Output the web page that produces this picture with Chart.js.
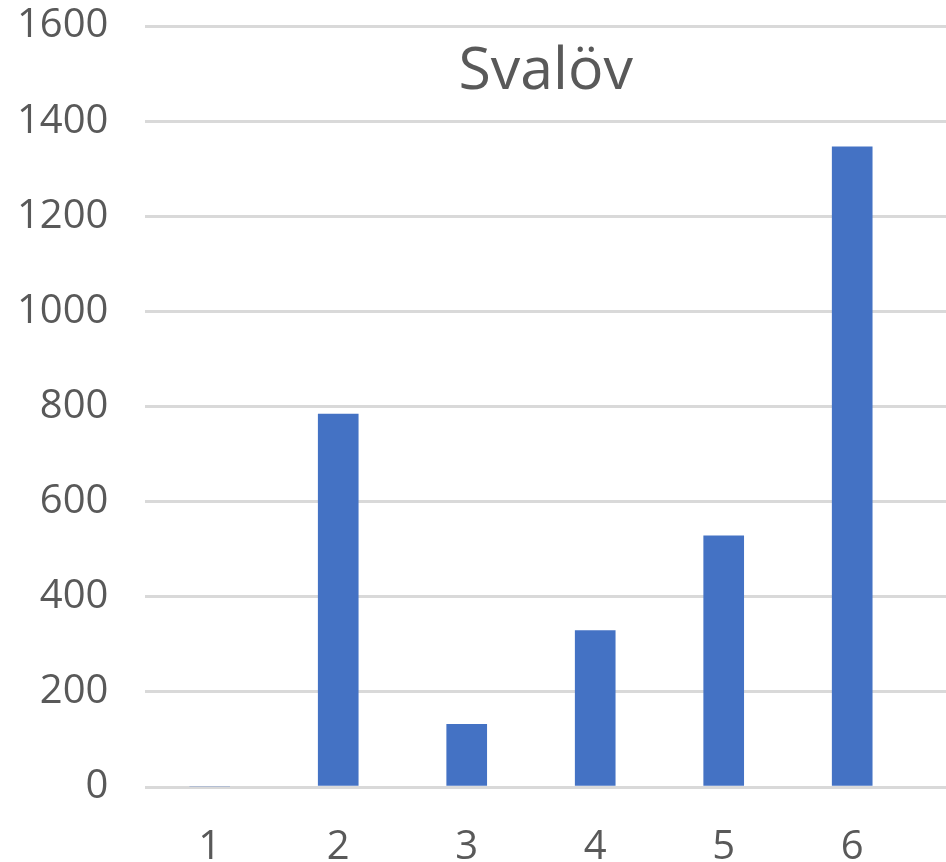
<!DOCTYPE html>
<html>
<head>
<meta charset="utf-8">
<script src="https://cdn.jsdelivr.net/npm/chart.js@4/dist/chart.umd.min.js"></script>
<style>
  html, body { margin: 0; padding: 0; background: #fff; overflow: hidden; }
  #wrap { width: 946px; height: 862px; }
</style>
</head>
<body>
<div id="wrap"><canvas id="svalov-chart"></canvas></div>
<script>
// chart data
const categories = [1, 2, 3, 4, 5, 6];
const values = [0, 784, 132, 329, 528, 1346];
const yTicks = [0, 200, 400, 600, 800, 1000, 1200, 1400, 1600];
const chartTitle = 'Svalöv';

const textColor = '#595959';
const gridColor = '#d9d9d9';
const barColor = '#4472c4';

const points = categories.map(function (c, i) {
  return { x: c, y: values[i] };
});

// title sits inside the plot area, like the excel one
const insideTitle = {
  id: 'insideTitle',
  afterDraw: function (chart) {
    const area = chart.chartArea;
    const ctx = chart.ctx;
    ctx.save();
    ctx.fillStyle = textColor;
    ctx.font = '59px "Open Sans"';
    ctx.textAlign = 'center';
    ctx.textBaseline = 'middle';
    ctx.fillText(chartTitle, (area.left + area.right) / 2, area.top + 46);
    ctx.restore();
  },
};

new Chart(document.getElementById('svalov-chart'), {
  type: 'bar',
  data: {
    datasets: [{
      data: points,
      backgroundColor: barColor,
      borderWidth: 0,
      barThickness: 40,
    }],
  },
  plugins: [insideTitle],
  options: {
    responsive: true,
    maintainAspectRatio: false,
    animation: false,
    layout: {
      padding: { left: 17, right: 0, top: 26, bottom: -10 },
    },
    plugins: {
      legend: { display: false },
      tooltip: { enabled: false },
      title: { display: false },
    },
    scales: {
      x: {
        type: 'linear',
        min: 0.5,
        max: 6.73,
        offset: false,
        // invisible ticks only used as spacing under the axis
        grid: {
          display: true,
          drawOnChartArea: false,
          offset: false,
          tickLength: 37,
          tickColor: 'rgba(0,0,0,0)',
        },
        border: { display: false },
        ticks: {
          stepSize: 1,
          includeBounds: false,
          padding: 0,
          color: textColor,
          font: { family: 'Open Sans', size: 40 },
        },
      },
      y: {
        min: yTicks[0],
        max: yTicks[yTicks.length - 1],
        grid: {
          color: gridColor,
          lineWidth: 3,
          tickLength: 37,
          tickColor: 'rgba(0,0,0,0)',
        },
        border: { display: false },
        ticks: {
          stepSize: yTicks[1] - yTicks[0],
          padding: 0,
          color: textColor,
          font: { family: 'Open Sans', size: 40 },
          callback: function (v) { return String(v); },
        },
      },
    },
  },
});
</script>
</body>
</html>
